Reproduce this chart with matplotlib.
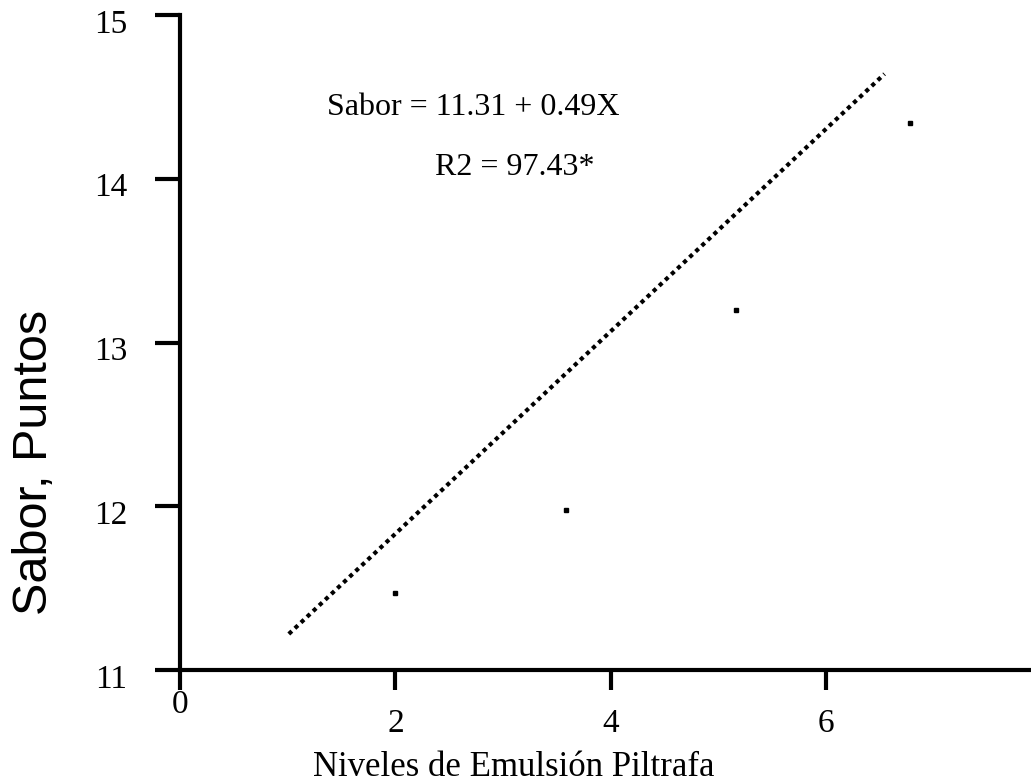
import matplotlib
matplotlib.use("Agg")
import matplotlib.pyplot as plt
import matplotlib.transforms as mtransforms

# datos
niveles = [2.0, 3.58, 5.16, 6.78]
sabor = [11.47, 11.98, 13.20, 14.34]

# extremos de la recta de regresion dibujada
recta_x = [1.01, 6.54]
recta_y = [11.22, 14.64]

xticks = [0, 2, 4, 6]
yticks = [11, 12, 13, 14, 15]

serif = "Liberation Serif"

fig = plt.figure(figsize=(10.31, 7.84), dpi=100)
ax = fig.add_axes([180 / 1031, 1 - 670 / 784, 1 - 180 / 1031, 655 / 784])

ax.plot(recta_x, recta_y, color="black", linewidth=3, linestyle=(0, (1, 1)))
ax.plot(niveles, sabor, linestyle="none", marker="s", markersize=3.4, color="black")

ax.set_xlim(0, 7.9)
ax.set_ylim(11, 15)

for lado in ["top", "right"]:
    ax.spines[lado].set_visible(False)
for lado in ["left", "bottom"]:
    ax.spines[lado].set_linewidth(3)

ax.set_xticks(xticks)
ax.set_xticklabels([""] + [str(t) for t in xticks[1:]], fontfamily=serif, fontsize=24)
ax.set_yticks(yticks)
ax.set_yticklabels([str(t) for t in yticks], fontfamily=serif, fontsize=24)
ax.tick_params(axis="x", direction="out", length=14.4, width=3, pad=13)
ax.tick_params(axis="y", direction="out", length=18, width=3, pad=20)

# el 0 del eje x va mas arriba que los demas
ax.text(0, -35 / 655, "0", transform=ax.get_xaxis_transform(), ha="center", va="center",
        fontfamily=serif, fontsize=24)

desplazar = mtransforms.ScaledTranslation(0, -0.06, fig.dpi_scale_trans)
for etiqueta in ax.get_yticklabels():
    etiqueta.set_transform(etiqueta.get_transform() + desplazar)

ax.set_xlabel("Niveles de Emulsión Piltrafa", fontfamily=serif, fontsize=25)
ax.xaxis.set_label_coords((514 - 180) / 851, -97 / 655)
ax.xaxis.label.set_verticalalignment("center")

fig.text(35 / 1031, 1 - 462 / 784, "Sabor, Puntos", rotation=90, ha="center", va="center",
         fontfamily="Liberation Sans", fontsize=35)

ax.text(1.364, 14.39, "Sabor = 11.31 + 0.49X", fontfamily=serif, fontsize=23, va="baseline")
ax.text(2.365, 14.02, "R2 = 97.43*", fontfamily=serif, fontsize=23, va="baseline")

fig.savefig("out.png", dpi=100)
